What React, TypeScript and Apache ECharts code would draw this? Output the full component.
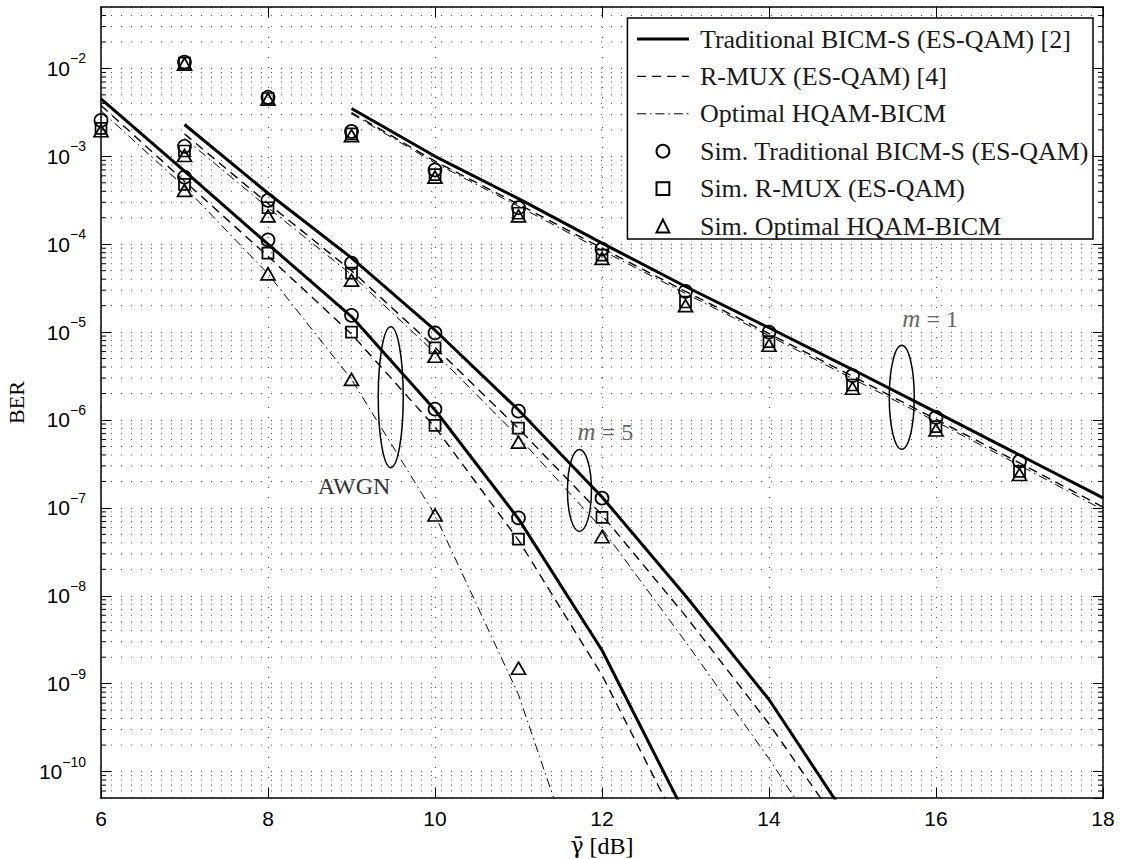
import React, { useEffect, useRef } from 'react';
import * as echarts from 'echarts';

// ---------------- axis ranges ----------------
const X_MIN = 6;
const X_MAX = 18;
const X_STEP = 2;
const Y_MIN = 5e-11;
const Y_MAX = 5e-2;
const MINOR_MANTISSAS = [2, 3, 4, 5, 6, 7, 8, 9];
const DECADES = [-11, -10, -9, -8, -7, -6, -5, -4, -3, -2];

// ---------------- legend names ----------------
const NAME_TRAD = 'Traditional BICM-S (ES-QAM) [2]';
const NAME_RMUX = 'R-MUX (ES-QAM) [4]';
const NAME_OPT = 'Optimal HQAM-BICM';
const NAME_SIM_TRAD = 'Sim. Traditional BICM-S (ES-QAM)';
const NAME_SIM_RMUX = 'Sim. R-MUX (ES-QAM)';
const NAME_SIM_OPT = 'Sim. Optimal HQAM-BICM';

// ---------------- theory curves ----------------
// AWGN
const THEORY_X_AWGN = [6, 7, 8, 9, 10, 11, 12, 13];
const TRAD_AWGN = [4.5e-3, 6.8e-4, 1.0e-4, 1.5e-5, 1.3e-6, 7.5e-8, 2.4e-9, 3.2e-11];
const RMUX_AWGN = [3.8e-3, 5.2e-4, 7.3e-5, 9.5e-6, 8.3e-7, 4.3e-8, 1.25e-9, 1.7e-11];
const THEORY_X_AWGN_OPT = [6, 7, 8, 9, 10, 11, 12];
const OPT_AWGN = [3.3e-3, 4.5e-4, 4.6e-5, 2.9e-6, 8.3e-8, 7.5e-10, 1.2e-12];
// Nakagami m = 5
const THEORY_X_M5 = [7, 8, 9, 10, 11, 12, 13, 14, 15];
const TRAD_M5 = [2.3e-3, 3.8e-4, 7.0e-5, 1.05e-5, 1.3e-6, 1.33e-7, 1.0e-8, 6.6e-10, 2.4e-11];
const RMUX_M5 = [1.8e-3, 2.9e-4, 5.0e-5, 6.7e-6, 8.0e-7, 8.3e-8, 5.9e-9, 3.5e-10, 1.5e-11];
const OPT_M5 = [1.6e-3, 2.6e-4, 4.5e-5, 5.8e-6, 6.4e-7, 5.8e-8, 3.0e-9, 1.4e-10, 5e-12];
// Nakagami m = 1
const THEORY_X_M1 = [9, 10, 11, 12, 13, 14, 15, 16, 17, 18];
const TRAD_M1 = [3.5e-3, 1.0e-3, 3.3e-4, 1.03e-4, 3.3e-5, 1.12e-5, 3.75e-6, 1.23e-6, 4.0e-7, 1.3e-7];
const RMUX_M1 = [3.15e-3, 8.8e-4, 2.85e-4, 9.0e-5, 2.9e-5, 9.6e-6, 3.15e-6, 1.02e-6, 3.25e-7, 1.02e-7];
const OPT_M1 = [3.05e-3, 8.4e-4, 2.7e-4, 8.5e-5, 2.75e-5, 9.1e-6, 2.95e-6, 9.6e-7, 3.05e-7, 9.5e-8];

// ---------------- simulation points ----------------
const SIM_X_AWGN = [6, 7, 8, 9, 10, 11];
const SIM_X_M5 = [7, 8, 9, 10, 11, 12];
const SIM_X_M1 = [7, 8, 9, 10, 11, 12, 13, 14, 15, 16, 17];

const SIM_TRAD_AWGN = [2.56e-3, 5.8e-4, 1.12e-4, 1.55e-5, 1.33e-6, 7.7e-8];
const SIM_RMUX_AWGN = [2.08e-3, 4.8e-4, 7.9e-5, 1.0e-5, 8.7e-7, 4.4e-8];
const SIM_OPT_AWGN = [1.95e-3, 4.1e-4, 4.6e-5, 2.9e-6, 8.3e-8, 1.5e-9];

const SIM_TRAD_M5 = [1.3e-3, 3.16e-4, 6.1e-5, 9.8e-6, 1.26e-6, 1.29e-7];
const SIM_RMUX_M5 = [1.15e-3, 2.6e-4, 4.7e-5, 6.6e-6, 8.1e-7, 7.8e-8];
const SIM_OPT_M5 = [1.02e-3, 2.1e-4, 3.9e-5, 5.3e-6, 5.6e-7, 4.7e-8];

const SIM_TRAD_M1 = [1.18e-2, 4.7e-3, 1.92e-3, 7.0e-4, 2.6e-4, 8.8e-5, 2.9e-5, 1.0e-5, 3.2e-6, 1.07e-6, 3.4e-7];
const SIM_RMUX_M1 = [1.15e-2, 4.55e-3, 1.8e-3, 6.2e-4, 2.25e-4, 7.5e-5, 2.2e-5, 7.8e-6, 2.5e-6, 8.4e-7, 2.6e-7];
const SIM_OPT_M1 = [1.12e-2, 4.45e-3, 1.72e-3, 5.8e-4, 2.1e-4, 6.9e-5, 2.0e-5, 7.1e-6, 2.3e-6, 7.7e-7, 2.4e-7];

// ---------------- annotations (data coordinates) ----------------
const ELLIPSES = [
  { x: 9.47, y: 1.82e-6, rx: 12.5, ry: 70.5 },
  { x: 11.73, y: 1.58e-7, rx: 12, ry: 41 },
  { x: 15.59, y: 1.81e-6, rx: 12.5, ry: 52 },
];
const LABELS = [
  { x: 9.03, y: 1.78e-7, text: 'AWGN', math: false },
  { x: 12.04, y: 7.3e-7, text: '{i|m} = 5', math: true },
  { x: 15.93, y: 1.41e-5, text: '{i|m} = 1', math: true },
];

// ---------------- styles ----------------
const SERIF = "'Liberation Serif', 'Times New Roman', serif";
const SANS = "'Liberation Sans', Arial, sans-serif";
const SOLID = { color: '#000', width: 3, type: 'solid' as any };
const DASHED = { color: '#000', width: 1.4, type: [9, 6] as any };
const DASHDOT = { color: '#000', width: 1, type: [9, 4, 1.5, 4] as any };
const GRID_DOT = { color: '#555', width: 1, type: [1, 9] as any };

const zip = (xs: number[], ys: number[]) => xs.map((x, i) => [x, ys[i]]);

function buildOption() {
  const theoryDefs = [
    { name: NAME_TRAD, style: SOLID, groups: [[THEORY_X_AWGN, TRAD_AWGN], [THEORY_X_M5, TRAD_M5], [THEORY_X_M1, TRAD_M1]] },
    { name: NAME_RMUX, style: DASHED, groups: [[THEORY_X_AWGN, RMUX_AWGN], [THEORY_X_M5, RMUX_M5], [THEORY_X_M1, RMUX_M1]] },
    { name: NAME_OPT, style: DASHDOT, groups: [[THEORY_X_AWGN_OPT, OPT_AWGN], [THEORY_X_M5, OPT_M5], [THEORY_X_M1, OPT_M1]] },
  ];
  const simDefs = [
    { name: NAME_SIM_TRAD, symbol: 'circle', size: 13, data: [zip(SIM_X_M1, SIM_TRAD_M1), zip(SIM_X_M5, SIM_TRAD_M5), zip(SIM_X_AWGN, SIM_TRAD_AWGN)] },
    { name: NAME_SIM_RMUX, symbol: 'rect', size: 11, data: [zip(SIM_X_M1, SIM_RMUX_M1), zip(SIM_X_M5, SIM_RMUX_M5), zip(SIM_X_AWGN, SIM_RMUX_AWGN)] },
    { name: NAME_SIM_OPT, symbol: 'triangle', size: [14, 12], data: [zip(SIM_X_M1, SIM_OPT_M1), zip(SIM_X_M5, SIM_OPT_M5), zip(SIM_X_AWGN, SIM_OPT_AWGN)] },
  ];

  const series: any[] = [];

  // minor log grid lines + minor ticks, drawn through the axis scale
  const minorValues: number[][] = [];
  DECADES.forEach((d) => {
    MINOR_MANTISSAS.forEach((m) => {
      const v = m * Math.pow(10, d);
      if (v > Y_MIN * 1.0001 && v < Y_MAX / 1.0001) minorValues.push([X_MIN, v]);
    });
  });
  series.push({
    type: 'custom',
    silent: true,
    z: 1,
    clip: false,
    data: minorValues,
    encode: { x: 0, y: 1 },
    renderItem: (_params: any, api: any) => {
      const v = api.value(1);
      const pl = api.coord([X_MIN, v]);
      const pr = api.coord([X_MAX, v]);
      return {
        type: 'group',
        children: [
          { type: 'line', shape: { x1: pl[0], y1: pl[1], x2: pr[0], y2: pr[1] }, style: { stroke: GRID_DOT.color, lineWidth: 1, lineDash: GRID_DOT.type } },
          { type: 'line', shape: { x1: pl[0], y1: pl[1], x2: pl[0] + 5, y2: pl[1] }, style: { stroke: '#000', lineWidth: 1 } },
          { type: 'line', shape: { x1: pr[0] - 5, y1: pr[1], x2: pr[0], y2: pr[1] }, style: { stroke: '#000', lineWidth: 1 } },
        ],
      };
    },
  });

  theoryDefs.forEach((def) => {
    def.groups.forEach(([xs, ys]) => {
      series.push({
        type: 'line',
        name: def.name,
        data: zip(xs as number[], ys as number[]),
        symbol: 'none',
        showSymbol: false,
        clip: true,
        z: 3,
        silent: true,
        lineStyle: { ...def.style },
        itemStyle: { color: '#000' },
        emphasis: { disabled: true },
      });
    });
  });

  simDefs.forEach((def) => {
    series.push({
      type: 'line',
      name: def.name,
      data: ([] as number[][]).concat(...def.data),
      symbol: def.symbol,
      symbolSize: def.size,
      showSymbol: true,
      showAllSymbol: true,
      clip: false,
      z: 5,
      silent: true,
      lineStyle: { width: 0, opacity: 0, color: '#000' },
      itemStyle: { color: 'rgba(255,255,255,0)', borderColor: '#000', borderWidth: 1.7 },
      emphasis: { disabled: true },
    });
  });

  const yLabel = (v: number) => {
    const l = Math.log10(v);
    const e = Math.round(l);
    if (Math.abs(l - e) > 1e-6) return '';
    return `{b|10}{s|${e < 0 ? '\u2212' : ''}${Math.abs(e)}}`;
  };

  const axisLineStyle = { color: '#000', width: 1.5 };
  const hideSymbol = { opacity: 0 };

  return {
    animation: false,
    backgroundColor: '#fff',
    grid: { left: 101, right: 19, top: 7, bottom: 61, show: false, outerBoundsMode: 'none' },
    legend: {
      data: [
        { name: NAME_TRAD, itemStyle: hideSymbol, lineStyle: { ...SOLID } },
        { name: NAME_RMUX, itemStyle: hideSymbol, lineStyle: { ...DASHED } },
        { name: NAME_OPT, itemStyle: hideSymbol, lineStyle: { ...DASHDOT } },
        { name: NAME_SIM_TRAD, lineStyle: { opacity: 0 } },
        { name: NAME_SIM_RMUX, lineStyle: { opacity: 0 } },
        { name: NAME_SIM_OPT, lineStyle: { opacity: 0 } },
      ],
      orient: 'vertical',
      right: 29,
      top: 18,
      selectedMode: false,
      backgroundColor: '#fff',
      borderColor: '#000',
      borderWidth: 1.5,
      borderRadius: 0,
      padding: [8, 4, 0, 8],
      itemWidth: 52,
      itemHeight: 16,
      itemGap: 11.4,
      textStyle: { fontFamily: SERIF, fontSize: 26, color: '#1a1a1a', padding: [0, 0, 0, 6] },
      z: 20,
    },
    xAxis: [
      {
        type: 'value',
        min: X_MIN,
        max: X_MAX,
        interval: X_STEP,
        position: 'bottom',
        axisLine: { show: true, onZero: false, lineStyle: axisLineStyle },
        axisTick: { show: true, inside: true, length: 10, lineStyle: { color: '#000', width: 1 } },
        axisLabel: { margin: 10, fontFamily: SANS, fontSize: 21, color: '#000' },
        splitLine: { show: true, lineStyle: GRID_DOT },
        name: '{g|\u03B3\u0304} [dB]',
        nameLocation: 'middle',
        nameGap: 30,
        nameTextStyle: {
          fontFamily: SERIF,
          fontSize: 24,
          color: '#000',
          rich: { g: { fontFamily: "'DejaVu Serif', serif", fontSize: 22, color: '#000' } },
        },
      },
      {
        type: 'value',
        min: X_MIN,
        max: X_MAX,
        interval: X_STEP,
        position: 'top',
        axisLine: { show: true, onZero: false, lineStyle: axisLineStyle },
        axisTick: { show: true, inside: true, length: 10, lineStyle: { color: '#000', width: 1 } },
        axisLabel: { show: false },
        splitLine: { show: false },
      },
    ],
    yAxis: [
      {
        type: 'log',
        logBase: 10,
        min: Y_MIN,
        max: Y_MAX,
        splitNumber: 9,
        position: 'left',
        axisLine: { show: true, onZero: false, lineStyle: axisLineStyle },
        axisTick: { show: true, inside: true, length: 10, lineStyle: { color: '#000', width: 1 } },
        axisLabel: {
          formatter: yLabel,
          margin: 15,
          showMinLabel: false,
          showMaxLabel: false,
          rich: {
            b: { fontFamily: SANS, fontSize: 21, lineHeight: 34, color: '#000' },
            s: { fontFamily: SANS, fontSize: 14, lineHeight: 16, verticalAlign: 'top', color: '#000' },
          },
        },
        splitLine: { show: true, lineStyle: GRID_DOT },
        name: 'BER',
        nameLocation: 'middle',
        nameGap: 70,
        nameTextStyle: { fontFamily: SERIF, fontSize: 22, color: '#000' },
      },
      {
        type: 'log',
        logBase: 10,
        min: Y_MIN,
        max: Y_MAX,
        splitNumber: 9,
        position: 'right',
        axisLine: { show: true, onZero: false, lineStyle: axisLineStyle },
        axisTick: { show: true, inside: true, length: 10, lineStyle: { color: '#000', width: 1 } },
        axisLabel: { show: false },
        splitLine: { show: false },
      },
    ],
    series,
  };
}

function buildGraphic(toPx: (x: number, y: number) => number[]) {
  const g: any[] = [];
  ELLIPSES.forEach((e) => {
    const [cx, cy] = toPx(e.x, e.y);
    g.push({
      type: 'ellipse',
      silent: true,
      z: 15,
      shape: { cx, cy, rx: e.rx, ry: e.ry },
      style: { fill: 'none', stroke: '#000', lineWidth: 1.5 },
    });
  });
  LABELS.forEach((l) => {
    const [x, y] = toPx(l.x, l.y);
    g.push({
      type: 'text',
      silent: true,
      z: 15,
      x,
      y,
      style: {
        text: l.text,
        align: 'center',
        verticalAlign: 'middle',
        fontFamily: SERIF,
        fontSize: 24,
        fill: l.math ? '#666' : '#333',
        rich: {
          i: { fontFamily: SERIF, fontStyle: 'italic', fontSize: 25, fill: '#666' },
        },
      },
    });
  });
  return g;
}

export default function App() {
  const ref = useRef<HTMLDivElement>(null);
  useEffect(() => {
    const el = ref.current;
    if (!el) return;
    const chart = echarts.init(el, undefined, { renderer: 'svg' });
    chart.setOption(buildOption() as any);
    const toPx = (x: number, y: number) =>
      chart.convertToPixel({ xAxisIndex: 0, yAxisIndex: 0 } as any, [x, y]) as number[];
    chart.setOption({ graphic: buildGraphic(toPx) } as any);
    return () => chart.dispose();
  }, []);
  return (
    <div
      ref={ref}
      style={{ position: 'fixed', left: 0, top: 0, width: 1122, height: 859, background: '#fff' }}
    />
  );
}
